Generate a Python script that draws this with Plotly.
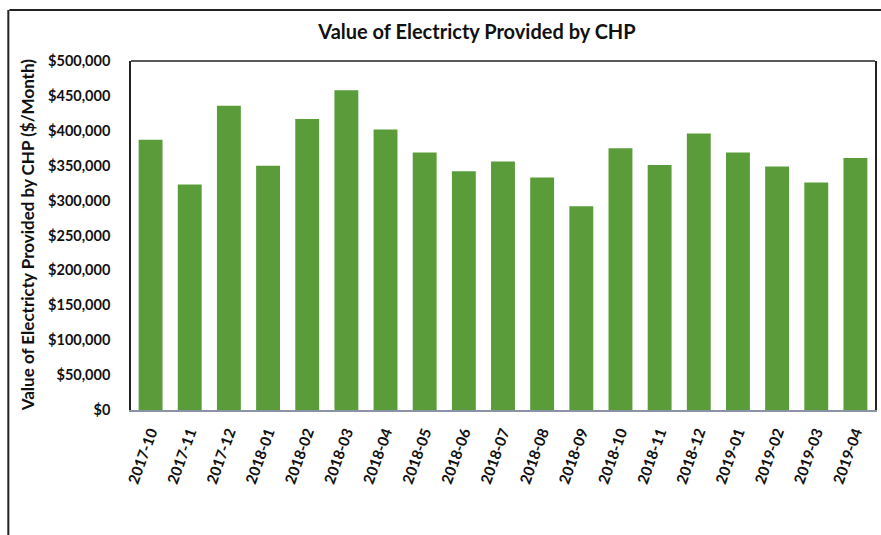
import plotly.graph_objects as go

months = ["2017-10", "2017-11", "2017-12", "2018-01", "2018-02", "2018-03", "2018-04",
          "2018-05", "2018-06", "2018-07", "2018-08", "2018-09", "2018-10", "2018-11",
          "2018-12", "2019-01", "2019-02", "2019-03", "2019-04"]
values = [387000, 323000, 436000, 350000, 417000, 458000, 402000,
          369000, 342000, 356000, 333000, 292000, 375000, 351000,
          396000, 369000, 349000, 326000, 361000]
y_ticks = [0, 50000, 100000, 150000, 200000, 250000, 300000, 350000, 400000, 450000, 500000]
y_tick_text = ["$" + format(v, ",") for v in y_ticks]

W, H = 881, 535
L, R, T, B = 131, 4, 61, 125
pw, ph = W - L - R, H - T - B

def px_x(p):
    return (p - L) / pw

def px_y(p):
    return (H - B - p) / ph

FONT = "Lato"
TXT = "#111111"

fig = go.Figure(go.Bar(
    x=months, y=values,
    marker=dict(color="#5a9b3a", line=dict(width=0)),
))

fig.update_layout(
    width=W, height=H,
    margin=dict(l=L, r=R, t=T, b=B),
    paper_bgcolor="white", plot_bgcolor="white",
    bargap=0.39,
    showlegend=False,
    font=dict(family=FONT, color=TXT),
    title=dict(text="<b>Value of Electricty Provided by CHP</b>",
               x=477 / W, xanchor="center", xref="container",
               y=1 - 32 / H, yanchor="middle", yref="container",
               font=dict(size=20, family=FONT, color=TXT)),
    xaxis=dict(type="category", tickangle=-70, showgrid=False,
               showline=True, linecolor="#8a93a6", linewidth=1.5,
               tickfont=dict(size=15, family=FONT, color=TXT, weight="bold"),
               ticks="", ticklabelstandoff=6),
    yaxis=dict(range=[0, 500000], tickvals=y_ticks, ticktext=y_tick_text,
               showgrid=False, zeroline=False,
               showline=True, linecolor="#222222", linewidth=1.5, mirror=True,
               tickfont=dict(size=14.5, family=FONT, color=TXT, weight="bold"),
               ticks="", ticklabelstandoff=16),
    annotations=[dict(
        text="<b>Value of Electricty Provided by CHP ($/Month)</b>",
        textangle=-90, xref="paper", yref="paper",
        x=px_x(27), y=px_y(235), xanchor="center", yanchor="middle",
        showarrow=False, font=dict(size=17, family=FONT, color=TXT))],
    shapes=[
        dict(type="line", xref="paper", yref="paper", x0=0, x1=1, y0=1, y1=1,
             line=dict(color="#222222", width=1.5)),
        dict(type="line", xref="paper", yref="paper", x0=px_x(9), x1=px_x(W + 5),
             y0=px_y(10), y1=px_y(10), line=dict(color="#222222", width=2)),
        dict(type="line", xref="paper", yref="paper", x0=px_x(8), x1=px_x(8),
             y0=px_y(10), y1=px_y(H + 5), line=dict(color="#222222", width=2)),
    ],
)

fig.write_html("out.html", config={"displayModeBar": False},
               post_script="document.body.style.margin='0';")
